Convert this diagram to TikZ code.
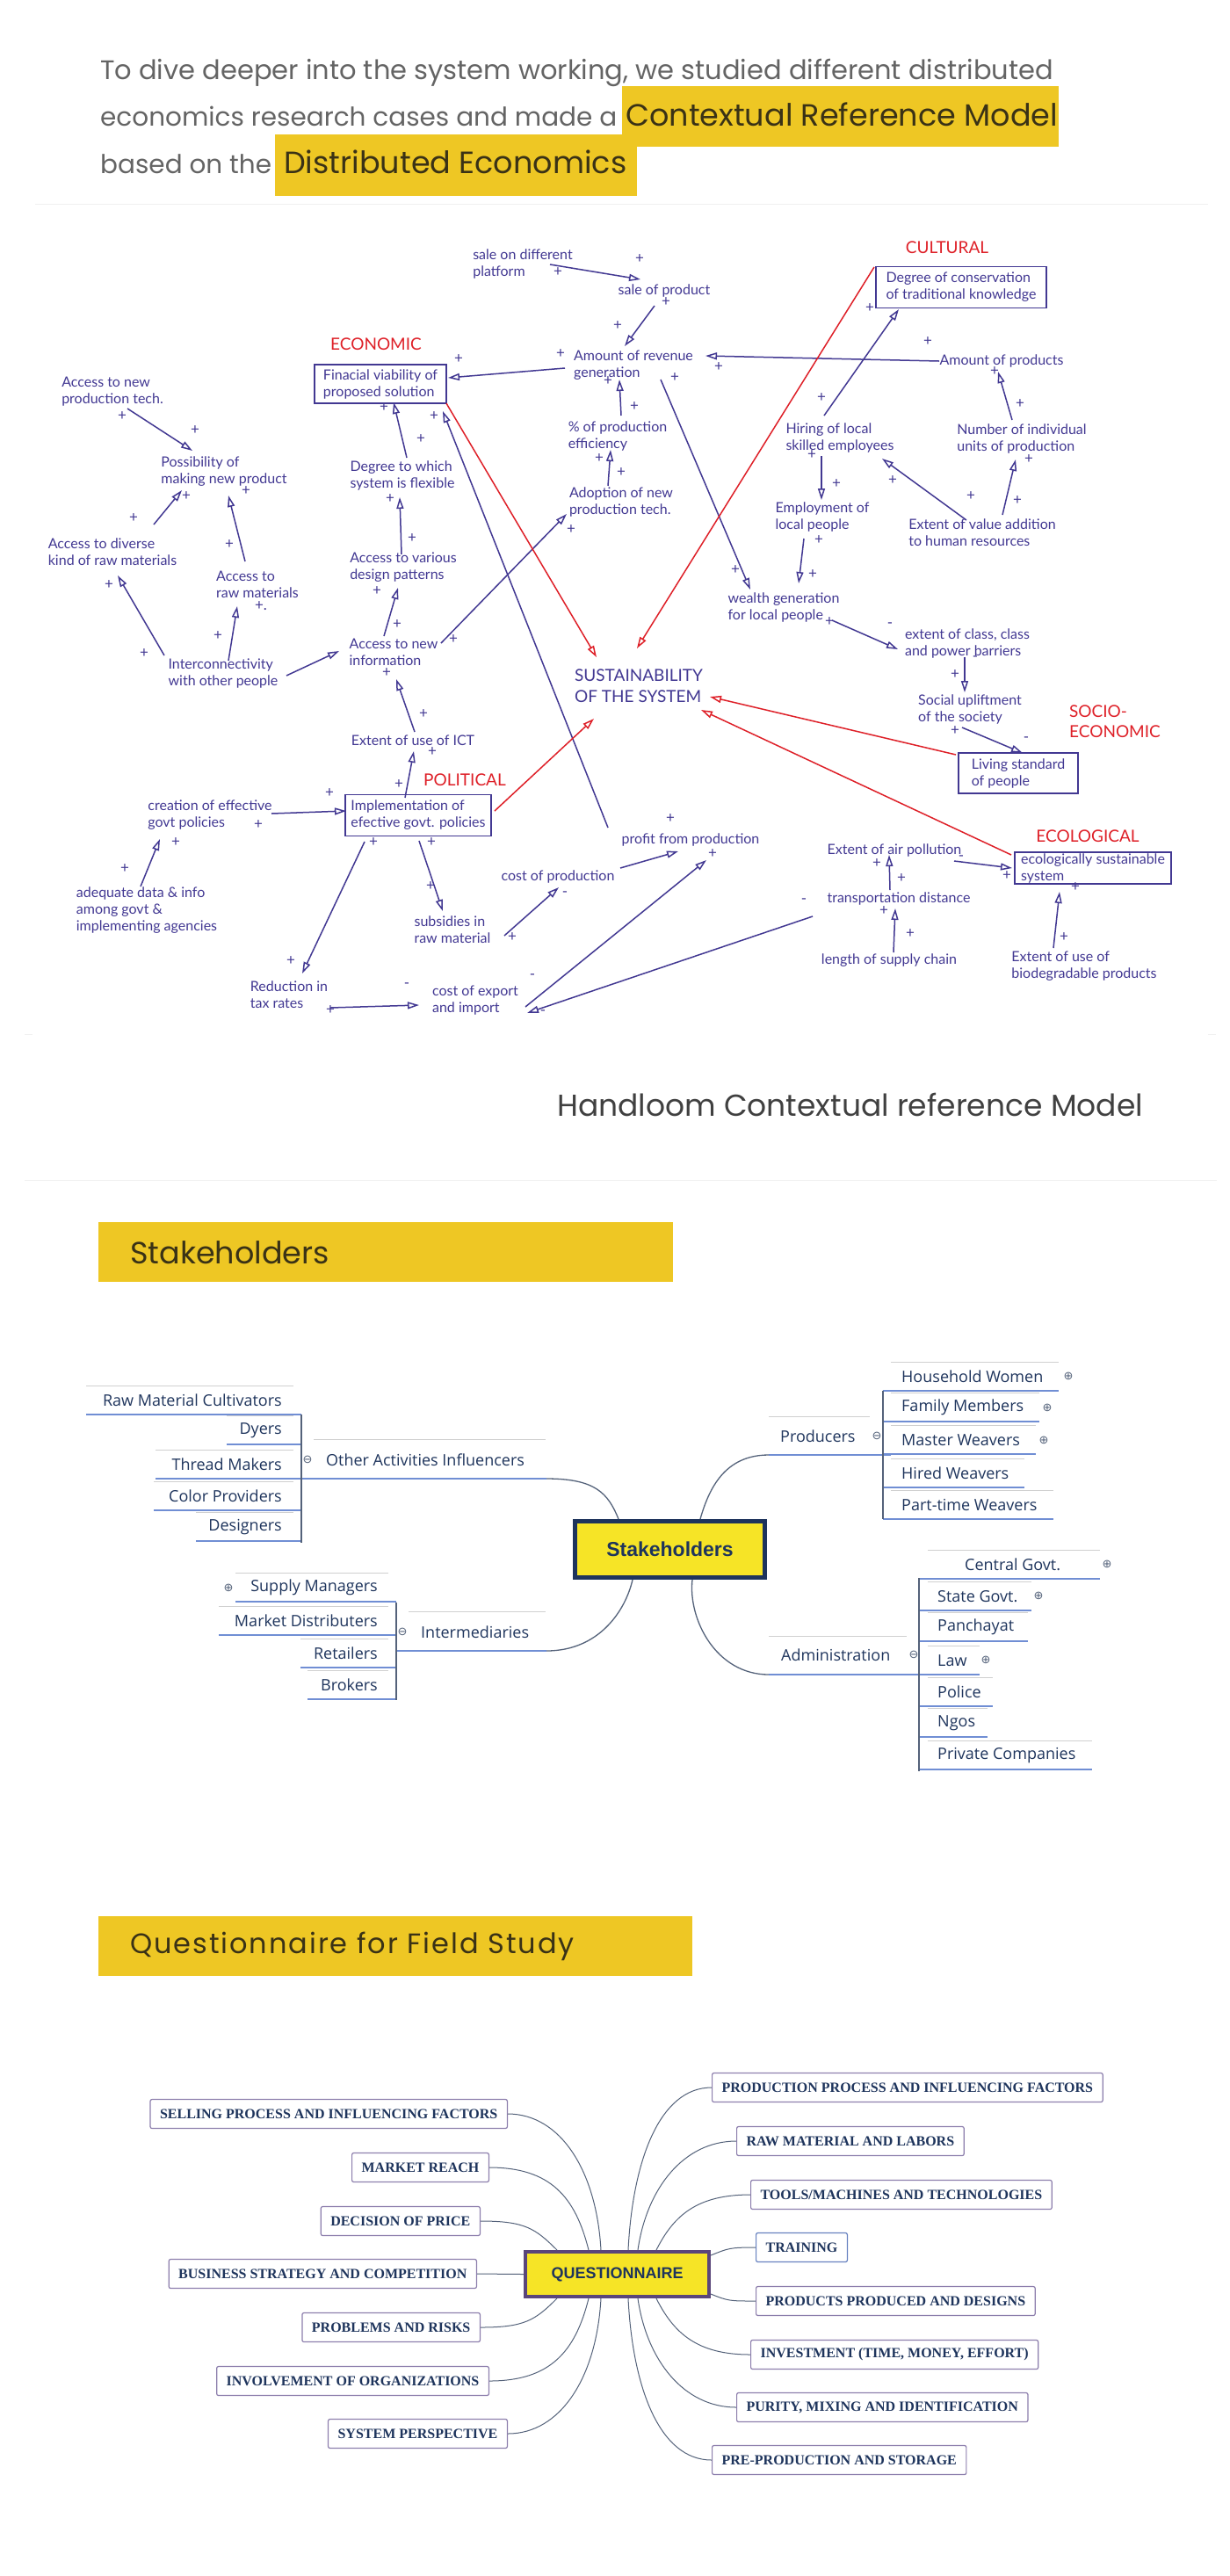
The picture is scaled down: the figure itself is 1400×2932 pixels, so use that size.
\documentclass[tikz,border=0pt]{standalone}
\usepackage{fontspec}
\setmainfont{Lato}
\newfontfamily\popfont{Poppins}
\newfontfamily\osfont{Open Sans}
\newfontfamily\arfont{Liberation Sans}
\newfontfamily\serfont{Liberation Serif}
\newfontfamily\djfont{DejaVu Sans}
\usepackage{xcolor}
\usetikzlibrary{positioning,calc,arrows.meta}

\definecolor{cld}{RGB}{66,56,146}
\definecolor{cred}{RGB}{222,32,40}
\definecolor{hdrgray}{RGB}{100,100,100}
\definecolor{gold}{RGB}{238,199,36}
\definecolor{darktext}{RGB}{58,50,22}
\definecolor{mnavy}{RGB}{30,52,92}
\definecolor{ublue}{RGB}{112,142,212}
\definecolor{tgray}{RGB}{208,208,208}
\definecolor{brk}{RGB}{84,98,122}
\definecolor{yfill}{RGB}{246,228,38}
\definecolor{qbord}{RGB}{140,126,172}
\definecolor{qpurple}{RGB}{90,70,122}

\begin{document}
\begin{tikzpicture}[x=1pt,y=-1pt,
    var/.style={text=cld, align=left, inner sep=1pt, font=\fontsize{16}{19}\selectfont},
    varbox/.style={var, draw=cld, line width=1.3pt, inner ysep=1pt},
    cat/.style={text=cred, align=left, inner sep=0pt, font=\fontsize{19}{23}\selectfont},
    sgn/.style={text=cld, inner sep=0pt, font=\fontsize{17}{17}\selectfont},
    lnk/.style={draw=cld, line width=1.5pt, -{Triangle[open,length=13pt,width=8pt]}},
    rlnk/.style={lnk, draw=cred},
    hdr/.style={text=hdrgray, inner sep=0pt, font=\popfont\fontsize{29.5}{29.5}\selectfont},
    hdrb/.style={hdr, text=darktext, font=\popfont\fontsize{35}{35}\selectfont},
    banner/.style={fill=gold, text=darktext, align=left, inner xsep=36pt, minimum height=68pt, font=\popfont\fontsize{35}{35}\selectfont},
    mm/.style={text=mnavy, inner sep=0pt, font=\osfont\fontsize{18}{18}\selectfont},
    uline/.style={draw=ublue, line width=1.8pt},
    topl/.style={draw=tgray, line width=1pt},
    brack/.style={draw=brk, line width=1.4pt},
    mmcurve/.style={draw=brk, line width=1.3pt},
    fold/.style={text=brk, inner sep=0pt, font=\djfont\fontsize{13}{13}\selectfont},
    qbox/.style={draw=qbord, rounded corners=2pt, line width=1.2pt, inner xsep=11pt, minimum height=33pt, text=mnavy, font=\serfont\bfseries\fontsize{16}{16}\selectfont},
    qline/.style={draw=brk, line width=1pt},
    faint/.style={draw=gray!12, line width=1pt}]

    \useasboundingbox (0,0) rectangle (1400,2932);

    % Header text
    \fill[gold] (313,153) rectangle (725,223);
    \fill[gold] (708,98) rectangle (1205,167);
    \node[hdr, anchor=base west, font=\popfont\fontsize{30.5}{30.5}\selectfont] (h1) at (114,90) {To dive deeper into the system working, we studied different distributed};
    \node[hdr, anchor=base west] (h2) at (114,143) {economics research cases and made a};
    \node[hdrb, anchor=base west] (h2b) at (712,143) {Contextual Reference Model};
    \node[hdr, anchor=base west] (h3) at (114,197) {based on the};
    \node[hdrb, anchor=base west] (h3b) at (323,197) {Distributed Economics};
    \draw[faint] (40,232) -- (1375,232);

    % Categories
    \node[cat] (economic) at (428,392) {ECONOMIC};
    \node[cat] (cultural) at (1078,282) {CULTURAL};
    \node[cat] (political) at (529,888) {POLITICAL};
    \node[cat] (socio) at (1269,821) {SOCIO-\\ECONOMIC};
    \node[cat] (ecological) at (1238,952) {ECOLOGICAL};

    % Variables
    \node[var, text=cld, font=\fontsize{19}{24}\selectfont] (sust) at (727,781) {SUSTAINABILITY\\OF THE SYSTEM};
    \node[varbox, minimum width=150pt, minimum height=44pt] (fin) at (433,437) {Finacial viability of\\proposed solution};
    \node[varbox, minimum width=194pt, minimum height=47pt] (trad) at (1094,327) {Degree of conservation\\of traditional knowledge};
    \node[varbox, minimum width=166pt, minimum height=47pt] (impl) at (476,928) {Implementation of\\efective govt. policies};
    \node[varbox, minimum width=136pt, minimum height=46pt] (liv) at (1159,880) {Living standard\\of people};
    \node[varbox, minimum width=178pt, minimum height=36pt, inner ysep=0pt] (ecosys) at (1244,988) {ecologically sustainable\\system};

    \node[var] (plat) at (595,300) {sale on different\\platform};
    \node[var] (sale) at (756,331) {sale of product};
    \node[var] (rev) at (721,416) {Amount of revenue\\generation};
    \node[var] (pct) at (703,496) {\% of production\\efficiency};
    \node[var] (adopt) at (707,571) {Adoption of new\\production tech.};
    \node[var] (prods) at (1140,411) {Amount of products};
    \node[var] (hire) at (956,498) {Hiring of local\\skilled employees};
    \node[var] (units) at (1163,499) {Number of individual\\units of production};
    \node[var] (empl) at (936,588) {Employment of\\local people};
    \node[var] (valadd) at (1118,606) {Extent of value addition\\to human resources};
    \node[var] (wealth) at (892,691) {wealth generation\\for local people};
    \node[var] (cls) at (1101,732) {extent of class, class\\and power barriers};
    \node[var] (soc) at (1104,807) {Social upliftment\\of the society};
    \node[var] (air) at (1018,968) {Extent of air pollution};
    \node[var] (trans) at (1023,1023) {transportation distance};
    \node[var] (supply) at (1012,1093) {length of supply chain};
    \node[var] (bio) at (1234,1100) {Extent of use of\\biodegradable products};
    \node[var] (profit) at (786,956) {profit from production};
    \node[var] (costp) at (635,998) {cost of production};
    \node[var] (subs) at (515,1058) {subsidies in\\raw material};
    \node[var] (expo) at (541,1139) {cost of export\\and import};
    \node[var] (tax) at (329,1132) {Reduction in\\tax rates};
    \node[var] (ict) at (470,843) {Extent of use of ICT};
    \node[var] (cgov) at (239,928) {creation of effective\\govt policies};
    \node[var] (data) at (167,1036) {adequate data \& info\\among govt \&\\implementing agencies};
    \node[var] (info) at (448,742) {Access to new\\information};
    \node[var] (design) at (459,646) {Access to various\\design patterns};
    \node[var] (flex) at (458,541) {Degree to which\\system is flexible};
    \node[var] (newtech) at (128,446) {Access to new\\production tech.};
    \node[var] (poss) at (255,537) {Possibility of\\making new product};
    \node[var] (div) at (128,628) {Access to diverse\\kind of raw materials};
    \node[var] (raw) at (293,665) {Access to\\raw materials};
    \node[var] (inter) at (254,766) {Interconnectivity\\with other people};

    % Causal links
    \draw[lnk] ($(plat)+(31,1)$) -- ($(sale)+(-27,-13)$);
    \draw[lnk] ($(sale)+(-11,17)$) -- ($(rev)+(-10,-22)$);
    \draw[lnk] ($(rev)+(-78,3)$) -- ($(fin)+(77,-7)$);
    \draw[lnk] ($(pct)+(4,-23)$) -- ($(rev)+(-16,16)$);
    \draw[lnk] ($(adopt)+(-15,-18)$) -- ($(pct)+(-8,16)$);
    \draw[lnk] ($(info)+(54,-10)$) -- ($(adopt)+(-62,14)$);
    \draw[lnk] ($(rev)+(31,16)$) -- ($(wealth)+(-38,-20)$);
    \draw[lnk] ($(prods)+(-71,0)$) -- ($(rev)+(82,-11)$);
    \draw[lnk] ($(hire)+(-18,-25)$) -- ($(trad)+(-71,25)$);
    \draw[lnk] ($(hire)+(-21,21)$) -- ($(empl)+(-1,-19)$);
    \draw[lnk] ($(empl)+(-21,25)$) -- ($(wealth)+(17,-27)$);
    \draw[lnk] ($(units)+(-11,-21)$) -- ($(prods)+(-4,12)$);
    \draw[lnk] ($(valadd)+(23,-20)$) -- ($(units)+(-7,24)$);
    \draw[lnk] ($(valadd)+(-18,-14)$) -- ($(hire)+(48,24)$);
    \draw[lnk] ($(wealth)+(55,15)$) -- ($(cls)+(-79,7)$);
    \draw[lnk] ($(cls)+(-3,16)$) -- ($(soc)+(-6,-19)$);
    \draw[lnk] ($(soc)+(-9,21)$) -- ($(liv)+(5,-23)$);
    \draw[lnk] ($(newtech)+(17,19)$) -- ($(poss)+(-36,-24)$);
    \draw[lnk] ($(div)+(47,-31)$) -- ($(poss)+(-48,21)$);
    \draw[lnk] ($(raw)+(-14,-26)$) -- ($(poss)+(5,27)$);
    \draw[lnk] ($(inter)+(6,-14)$) -- ($(raw)+(-23,25)$);
    \draw[lnk] ($(inter)+(-67,-20)$) -- ($(div)+(6,27)$);
    \draw[lnk] ($(inter)+(72,3)$) -- ($(info)+(-62,-1)$);
    \draw[lnk] ($(info)+(-11,-18)$) -- ($(design)+(-6,23)$);
    \draw[lnk] ($(design)+(-2,-15)$) -- ($(flex)+(-3,25)$);
    \draw[lnk] ($(flex)+(5,-20)$) -- ($(fin)+(15,21)$);
    \draw[lnk] ($(profit)+(-94,-14)$) -- ($(fin)+(71,31)$);
    \draw[lnk] ($(ict)+(2,-10)$) -- ($(info)+(3,31)$);
    \draw[lnk] ($(impl)+(-15,-20)$) -- ($(ict)+(1,12)$);
    \draw[lnk] ($(cgov)+(70,-2)$) -- ($(impl)+(-82,-5)$);
    \draw[lnk] ($(data)+(-7,-27)$) -- ($(cgov)+(-57,27)$);
    \draw[lnk] ($(impl)+(-61,30)$) -- ($(tax)+(15,-24)$);
    \draw[lnk] ($(impl)+(1,29)$) -- ($(subs)+(-11,-21)$);
    \draw[lnk] ($(subs)+(59,7)$) -- ($(costp)+(1,12)$);
    \draw[lnk] ($(tax)+(47,15)$) -- ($(expo)+(-64,5)$);
    \draw[lnk] ($(costp)+(71,-10)$) -- ($(profit)+(-14,13)$);
    \draw[lnk] ($(expo)+(57,7)$) -- ($(profit)+(18,23)$);
    \draw[lnk] ($(trans)+(-98,20)$) -- ($(expo)+(59,14)$);
    \draw[lnk] ($(supply)+(5,-9)$) -- ($(trans)+(-4,11)$);
    \draw[lnk] ($(trans)+(-10,-10)$) -- ($(air)+(-6,5)$);
    \draw[lnk] ($(air)+(68,12)$) -- ($(ecosys)+(-92,0)$);
    \draw[lnk] ($(bio)+(-35,-21)$) -- ($(ecosys)+(-38,27)$);

    % Links into sustainability
    \draw[rlnk] ($(fin)+(75,22)$) -- ($(sust)+(-48,-33)$);
    \draw[rlnk] ($(trad)+(-99,-23)$) -- ($(sust)+(-2,-43)$);
    \draw[rlnk] ($(impl)+(87,-5)$) -- ($(sust)+(-51,37)$);
    \draw[rlnk] ($(liv)+(-71,-21)$) -- ($(sust)+(81,12)$);
    \draw[rlnk] ($(ecosys)+(-93,-15)$) -- ($(sust)+(71,27)$);

    % Signs
    \foreach \p [count=\i] in {(635,310),(728,295),(758,344),(703,371),(638,403),(692,434),(722,463),(768,430),
        (818,418),(1056,389),(990,351),(682,522),(707,538),(650,603),(522,409),(139,474),(222,490),(212,565),
        (280,559),(152,590),(261,620),(248,724),(124,666),(164,744),(516,728),(452,711),(429,673),(469,613),
        (444,568),(479,500),(437,464),(494,474),(935,453),(924,518),(952,551),(932,615),(925,654),(837,649),
        (944,708),(1087,768),(1161,460),(1132,423),(1171,523),(1158,570),(1105,565),(1016,547),(482,813),
        (440,766),(492,856),(454,893),(375,903),(294,939),(200,959),(142,989),(425,959),(331,1094),(376,1150),
        (491,959),(490,1009),(583,1067),(763,932),(811,972),(1146,997),(1224,1010),(1211,1067),(998,983),
        (1026,1000),(1006,1037),(1036,1063),(1087,832)}
        \node[sgn] (pl\i) at \p {+};
    \node[sgn] (pldot) at (297,690) {+.};
    \foreach \p [count=\i] in {(1013,712),(1110,750),(1168,842),(643,1018),(463,1122),(606,1112),(618,1153),
        (915,1026),(1094,977)}
        \node[sgn] (mi\i) at \p {-};

    % Caption
    \draw[faint] (28,1177) -- (37,1177);
    \draw[faint] (1375,1177) -- (1384,1177);
    \node[hdr, text=black!75, anchor=west, font=\popfont\fontsize{34.5}{34.5}\selectfont] (cap) at (634,1257) {Handloom Contextual reference Model};
    \draw[faint] (28,1343) -- (1385,1343);

    % Stakeholders
    \node[banner, text width=582pt, anchor=north west] (stb) at (112,1391) {Stakeholders};
    \node[draw=mnavy, line width=5pt, fill=yfill, minimum width=216pt, minimum height=64pt,
        text=mnavy, font=\arfont\bfseries\fontsize{23}{23}\selectfont] (sh) at (762.5,1763.5) {Stakeholders};

    \node[mm, anchor=west] (oa) at (371,1662) {Other Activities Influencers};
    \node[mm, anchor=west] (im) at (479,1858) {Intermediaries};
    \node[mm, anchor=west] (pr) at (888,1635) {Producers};
    \node[mm, anchor=west] (ad) at (889,1884) {Administration};
    \draw[topl] (357,1638) -- (621,1638);
    \draw[topl] (465,1834) -- (621,1834);
    \draw[topl] (875,1612) -- (990,1612);
    \draw[topl] (875,1862) -- (1032,1862);
    \draw[uline] (334,1683) -- (622,1683) coordinate (oaE);
    \draw[uline] (451,1879) -- (622,1879) coordinate (imE);
    \draw[uline] (1014,1656) -- (875,1656) coordinate (prE);
    \draw[uline] (1054,1906) -- (875,1906) coordinate (adE);
    \draw[mmcurve] (oaE) .. controls +(55,0) and +(-12,-30) .. ([xshift=-58.5pt]sh.north);
    \draw[mmcurve] (imE) .. controls +(60,0) and +(-8,35) .. ([xshift=-42.5pt]sh.south);
    \draw[mmcurve] (prE) .. controls +(-50,0) and +(10,-35) .. ([xshift=34.5pt]sh.north);
    \draw[mmcurve] (adE) .. controls +(-60,0) and +(-5,45) .. ([xshift=25.5pt]sh.south);

    \foreach \t/\y/\xl [count=\i] in {Raw Material Cultivators/1594/98, Dyers/1628/258, Thread Makers/1667/177,
        Color Providers/1703/175, Designers/1738/223}{
        \node[mm, anchor=east] (oa\i) at (321,\y) {\t};
        \draw[topl] (\xl,\y-17) -- (334,\y-17);
        \draw[uline] (\xl,\y+16) -- (343,\y+16);
    }
    \foreach \t/\y/\xl [count=\i] in {Supply Managers/1807/268, Market Distributers/1845/249,
        Retailers/1882/342, Brokers/1918/350}{
        \node[mm, anchor=east] (im\i) at (430,\y) {\t};
        \draw[topl] (\xl,\y-17) -- (442,\y-17);
        \draw[uline] (\xl,\y+16) -- (451,\y+16);
    }
    \foreach \t/\y/\xr [count=\i] in {Household Women/1567/1205, Family Members/1602/1183, Master Weavers/1639/1179,
        Hired Weavers/1677/1166, Part-time Weavers/1713/1199}{
        \node[mm, anchor=west] (pr\i) at (1026,\y) {\t};
        \draw[topl] (1014,\y-17) -- (\xr,\y-17);
        \draw[uline] (1005,\y+16) -- (\xr,\y+16);
    }
    \foreach \t/\y/\xr/\xt [count=\i] in {Central Govt./1781/1252/1098, State Govt./1817/1174/1067,
        Panchayat/1852/1170/1067, Law/1890/1115/1067, Police/1926/1130/1067, Ngos/1961/1124/1067,
        Private Companies/1998/1243/1067}{
        \node[mm, anchor=west] (ad\i) at (\xt,\y) {\t};
        \draw[topl] (1056,\y-17) -- (\xr,\y-17);
        \draw[uline] (1046,\y+16) -- (\xr,\y+16);
    }
    \draw[brack] (343,1610) -- (343,1756);
    \draw[brack] (451,1824) -- (451,1935);
    \draw[brack] (1005,1583) -- (1005,1729);
    \draw[brack] (1046,1796) -- (1046,2016);

    \foreach \p [count=\i] in {(1216,1566),(1192,1602),(1188,1639),(1260,1780),(1182,1816),(1122,1889),(260,1807)}
        \node[fold] (fp\i) at \p {⊕};
    \foreach \p [count=\i] in {(998,1634),(1040,1883),(350,1661),(458,1857)}
        \node[fold] (fm\i) at \p {⊖};

    % Questionnaire
    \node[banner, text width=604pt, anchor=north west, font=\popfont\fontsize{32}{32}\selectfont\addfontfeature{LetterSpace=6}] (qb) at (112,2181) {Questionnaire for Field Study};
    \node[draw=qpurple, line width=4pt, fill=yfill, minimum width=209pt, minimum height=51pt,
        text=mnavy, font=\arfont\bfseries\fontsize{18}{18}\selectfont] (q) at (702.5,2588.5) {QUESTIONNAIRE};

    \node[qbox, anchor=east] (sell) at (578,2406) {SELLING PROCESS AND INFLUENCING FACTORS};
    \node[qbox, anchor=east] (mkt) at (557,2467) {MARKET REACH};
    \node[qbox, anchor=east] (price) at (547,2528) {DECISION OF PRICE};
    \node[qbox, anchor=east] (biz) at (543,2588) {BUSINESS STRATEGY AND COMPETITION};
    \node[qbox, anchor=east] (prob) at (547,2649) {PROBLEMS AND RISKS};
    \node[qbox, anchor=east] (org) at (557,2710) {INVOLVEMENT OF ORGANIZATIONS};
    \node[qbox, anchor=east] (sysp) at (578,2770) {SYSTEM PERSPECTIVE};

    \node[qbox, anchor=west] (prod) at (810,2376) {PRODUCTION PROCESS AND INFLUENCING FACTORS};
    \node[qbox, anchor=west] (rawm) at (838,2437) {RAW MATERIAL AND LABORS};
    \node[qbox, anchor=west] (tools) at (854,2498) {TOOLS/MACHINES AND TECHNOLOGIES};
    \node[qbox, anchor=west, draw=ublue!90!black] (train) at (860,2558) {TRAINING};
    \node[qbox, anchor=west] (pdes) at (860,2619) {PRODUCTS PRODUCED AND DESIGNS};
    \node[qbox, anchor=west] (inv) at (854,2680) {INVESTMENT (TIME, MONEY, EFFORT)};
    \node[qbox, anchor=west] (pur) at (838,2740) {PURITY, MIXING AND IDENTIFICATION};
    \node[qbox, anchor=west] (pre) at (810,2800) {PRE-PRODUCTION AND STORAGE};

    \draw[qline] (sell.east) .. controls +(60,0) and +(-5,-90) .. ([xshift=-18.5pt]q.north);
    \draw[qline] (mkt.east) .. controls +(70,0) and +(-15,-60) .. ([xshift=-32.5pt]q.north);
    \draw[qline] (price.east) .. controls +(50,0) and +(-25,-25) .. ([xshift=-68.5pt]q.north);
    \draw[qline] (biz.east) -- (q.west);
    \draw[qline] (prob.east) .. controls +(50,0) and +(-25,25) .. ([xshift=-68.5pt]q.south);
    \draw[qline] (org.east) .. controls +(70,0) and +(-15,60) .. ([xshift=-32.5pt]q.south);
    \draw[qline] (sysp.east) .. controls +(60,0) and +(-5,90) .. ([xshift=-18.5pt]q.south);

    \draw[qline] (prod.west) .. controls +(-60,0) and +(5,-100) .. ([xshift=12.5pt]q.north);
    \draw[qline] (rawm.west) .. controls +(-60,0) and +(10,-70) .. ([xshift=23.5pt]q.north);
    \draw[qline] (tools.west) .. controls +(-60,0) and +(20,-40) .. ([xshift=44.5pt]q.north);
    \draw[qline] ([yshift=21.5pt]q.east) .. controls +(20,-8) and +(-30,0) .. (train.west);
    \draw[qline] ([yshift=-22.5pt]q.east) .. controls +(20,8) and +(-30,0) .. (pdes.west);
    \draw[qline] ([xshift=44.5pt]q.south) .. controls +(20,40) and +(-60,0) .. (inv.west);
    \draw[qline] ([xshift=23.5pt]q.south) .. controls +(10,70) and +(-60,0) .. (pur.west);
    \draw[qline] ([xshift=12.5pt]q.south) .. controls +(5,100) and +(-60,0) .. (pre.west);
\end{tikzpicture}
\end{document}
